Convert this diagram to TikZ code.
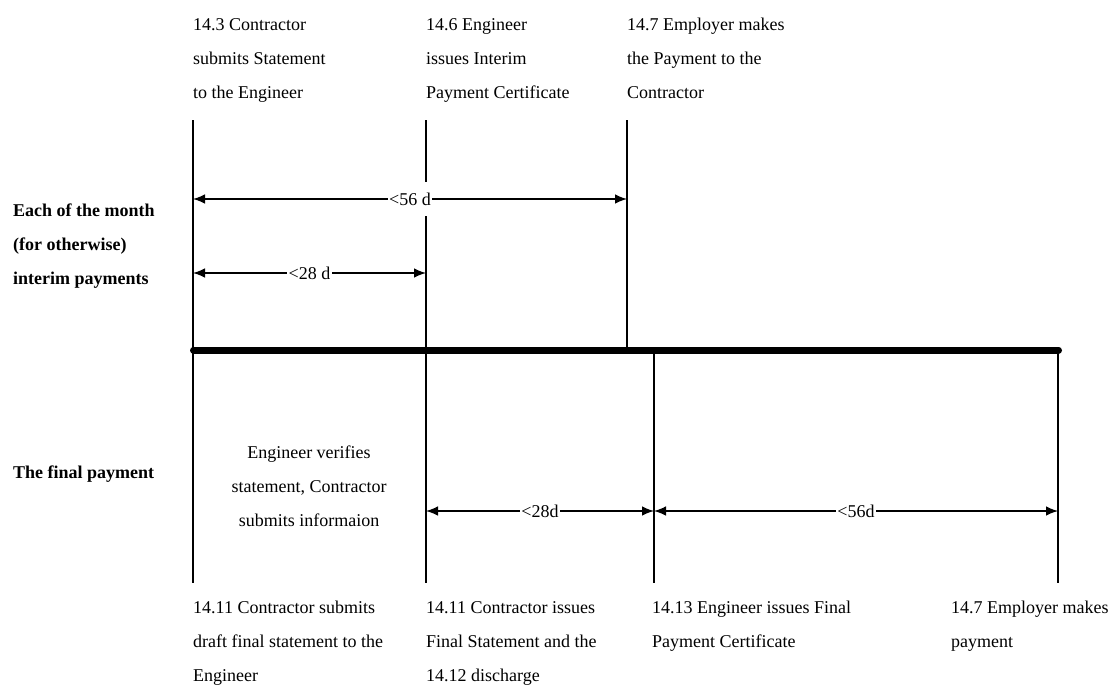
\documentclass[tikz,border=0pt]{standalone}
\usepackage{fontspec}
\setmainfont{Liberation Serif}
\usetikzlibrary{arrows.meta}
\begin{document}
\begin{tikzpicture}[x=1pt,y=-1pt,
  lbl/.style={anchor=north west, inner sep=0pt, align=left, font=\fontsize{18}{34}\selectfont},
  sidelbl/.style={lbl, font=\fontsize{18}{34}\selectfont\bfseries},
  vline/.style={line width=1.7pt},
  timeline/.style={line width=7pt, line cap=round},
  dimarrow/.style={line width=1.3pt, {Latex[length=12pt,width=9.5pt]}-{Latex[length=12pt,width=9.5pt]}},
  dimlbl/.style={fill=white, inner xsep=1.5pt, inner ysep=0pt, minimum height=34pt, font=\fontsize{18}{20}\selectfont}
]
\useasboundingbox (0,0) rectangle (1114,685);
\fill[white] (0,0) rectangle (1114,685);

% vertical line end points
\coordinate (v1t) at (193,120); \coordinate (v1b) at (193,583);
\coordinate (v2t) at (426,120); \coordinate (v2b) at (426,583);
\coordinate (v3t) at (627,120); \coordinate (v3b) at (627,350);
\coordinate (v4t) at (654,350); \coordinate (v4b) at (654,583);
\coordinate (v5t) at (1058,350); \coordinate (v5b) at (1058,583);
\coordinate (tl1) at (193.5,350); \coordinate (tl2) at (1058.5,350);

\draw[vline] (v1t) -- (v1b);
\draw[vline] (v2t) -- (v2b);
\draw[vline] (v3t) -- (v3b);
\draw[vline] (v4t) -- (v4b);
\draw[vline] (v5t) -- (v5b);
\draw[timeline] (tl1) -- (tl2);

% dimension arrow ends
\coordinate (a1s) at (193,199); \coordinate (a1e) at (627,199);
\coordinate (a2s) at (193,273); \coordinate (a2e) at (426,273);
\coordinate (b1s) at (426,511); \coordinate (b1e) at (654,511);
\coordinate (b2s) at (654,511); \coordinate (b2e) at (1058,511);

\draw[dimarrow] (a1s) -- node[dimlbl] (d56a) {<56 d} (a1e);
\draw[dimarrow] (a2s) -- node[dimlbl] (d28a) {<28 d} (a2e);
\draw[dimarrow] (b1s) -- node[dimlbl] (d28b) {<28d} (b1e);
\draw[dimarrow] (b2s) -- node[dimlbl] (d56b) {<56d} (b2e);

% top labels
\node[lbl] (t1) at (193,18) {14.3 Contractor\\submits Statement\\to the Engineer};
\node[lbl] (t2) at (426,18) {14.6 Engineer\\issues Interim\\Payment Certificate};
\node[lbl] (t3) at (627,18) {14.7 Employer makes\\the Payment to the\\Contractor};

% side labels
\node[sidelbl] (s1) at (13,204) {Each of the month\\(for otherwise)\\interim payments};
\node[sidelbl] (s2) at (13,466) {The final payment};

% middle note
\node[lbl, anchor=north, align=center] (m1) at (309,446) {Engineer verifies\\statement, Contractor\\submits informaion};

% bottom labels
\node[lbl] (b1) at (193,601) {14.11 Contractor submits\\draft final statement to the\\Engineer};
\node[lbl] (b2) at (426,601) {14.11 Contractor issues\\Final Statement and the\\14.12 discharge};
\node[lbl] (b3) at (652,601) {14.13 Engineer issues Final\\Payment Certificate};
\node[lbl] (b4) at (951,601) {14.7 Employer makes\\payment};
\end{tikzpicture}
\end{document}
